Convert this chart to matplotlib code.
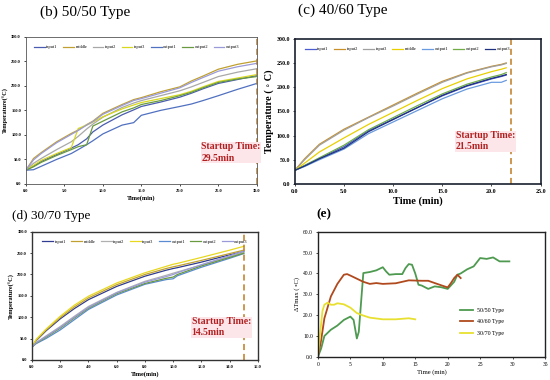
import numpy as np
import matplotlib
matplotlib.use("Agg")
import matplotlib.pyplot as plt

plt.rcParams['font.family'] = ['Liberation Serif', 'DejaVu Serif', 'DejaVu Sans']

# ---------------- (b) 50/50 type ----------------
t_b = [0, 1, 2, 4, 5.9, 6.8, 7.9, 8.7, 10, 12.5, 14, 15, 17.5, 20, 21.5, 23, 25, 27.5, 30]
b_series = {
    'input1':  [28, 36, 46, 60, 73, 80, 92, 106, 120, 141, 151, 158, 167, 177, 185, 194, 205, 213, 221],
    'middle':  [28, 52, 64, 86, 103, 110, 121, 128, 144, 162, 172, 176, 188, 198, 210, 220, 234, 244, 251],
    'input2':  [28, 42, 52, 70, 86, 97, 112, 122, 136, 156, 165, 170, 180, 190, 198, 207, 219, 228, 235],
    'input3':  [28, 38, 48, 62, 74, 113, 120, 126, 137, 153, 161, 166, 174, 182, 189, 198, 209, 216, 223],
    'output1': [28, 29, 36, 50, 62, 70, 80, 88, 102, 120, 125, 140, 150, 158, 163, 170, 180, 193, 205],
    'output2': [28, 35, 44, 58, 70, 76, 80, 118, 128, 147, 155, 162, 170, 180, 187, 196, 207, 214, 219],
    'output3': [28, 49, 62, 84, 101, 109, 120, 127, 142, 160, 170, 174, 185, 196, 207, 217, 230, 239, 246],
}
b_colors = ['#4a5cb0', '#c0a030', '#a8a8a8', '#d8d820', '#5070c0', '#6a9a40', '#9a9ad8']

# ---------------- (c) 40/60 type ----------------
t_c = [0, 1, 2.5, 5, 7.5, 10, 12.5, 15, 17.5, 20, 21, 21.5]
c_series = {
    'input1':  [28, 38, 53, 77, 110, 134, 158, 182, 202, 217, 222, 225],
    'input2':  [28, 52, 82, 113, 138, 163, 188, 212, 230, 243, 247, 250],
    'input3':  [28, 50, 80, 111, 137, 161, 186, 210, 229, 242, 246, 249],
    'middle':  [28, 43, 66, 95, 123, 148, 173, 197, 217, 232, 237, 240],
    'output1': [28, 36, 50, 72, 104, 128, 152, 176, 196, 210, 210, 214],
    'output2': [28, 38, 54, 80, 112, 137, 162, 186, 206, 221, 226, 230],
    'output3': [28, 37, 52, 74, 108, 133, 158, 183, 203, 218, 223, 226],
}
c_colors = ['#4a5cd0', '#c8902a', '#a0a0a0', '#e8d000', '#6a9be0', '#70ad47', '#203080']

# ---------------- (d) 30/70 type ----------------
t_d = [0, 0.3, 1, 2, 3, 4, 6, 8, 9.5, 10, 10.3, 12, 14, 15]
d_series = {
    'input1':  [30, 45, 68, 96, 120, 141, 172, 196, 210, 214, 216, 229, 246, 254],
    'middle':  [30, 46, 70, 99, 124, 145, 176, 200, 214, 218, 220, 233, 249, 257],
    'input2':  [30, 40, 56, 78, 102, 125, 158, 184, 198, 203, 206, 222, 242, 252],
    'input3':  [30, 48, 72, 102, 128, 149, 180, 204, 219, 224, 226, 240, 257, 266],
    'output1': [30, 38, 50, 70, 94, 118, 152, 177, 188, 190, 197, 217, 238, 249],
    'output2': [30, 39, 53, 74, 98, 121, 155, 179, 191, 194, 200, 220, 240, 250],
    'output3': [30, 40, 55, 76, 100, 123, 157, 182, 195, 200, 204, 223, 244, 255],
}
d_colors = ['#303c90', '#c0a030', '#b0b0b0', '#e8d820', '#5a8ad0', '#6a9a40', '#9a9ad8']

# ---------------- (e) delta T max ----------------
t_e50 = [0, 0.5, 1, 2, 3, 4, 5, 5.5, 6, 6.3, 7, 8, 9, 10, 10.5, 11, 12, 13, 13.5, 14, 14.5,
         15, 15.5, 16, 17, 18, 19, 20, 21, 21.5, 22, 23, 24, 25, 26, 27, 28, 29.5]
dT_50 = [0, 4, 10, 13, 15, 17.7, 19.3, 17.7, 8.8, 12, 40.2, 40.7, 41.5, 43, 41, 39.4, 39.7, 39.7,
         42.6, 44.5, 44.2, 40, 34.6, 34.2, 32.6, 33.8, 33.4, 32.6, 36, 39.4, 40, 42, 43.4, 47.4,
         47, 47.7, 45.8, 45.8]
t_e40 = [0, 0.5, 1, 2, 3, 4, 4.5, 5, 6, 7, 8, 9, 10, 12, 14, 16, 17, 18, 19.5, 20, 20.5, 21, 21.5, 22]
dT_40 = [0, 8, 18.5, 29, 35, 39.4, 39.7, 39, 37.5, 36, 35, 35.4, 35, 35.3, 36.7, 36.5, 36.5,
         35.4, 33.8, 33.3, 35.4, 37.8, 39.4, 37.8]
t_e30 = [0, 0.3, 0.7, 1, 1.5, 2, 2.5, 3, 4, 5, 6, 7, 8, 10, 12, 14, 15]
dT_30 = [0, 10, 22, 25, 26, 25, 25, 25.7, 25.2, 23.6, 21, 19.8, 18.8, 18, 18, 18.5, 18]

dash_col = '#c07a20'
note_col = '#b02020'


def temp_panel(ax, t, series, colors, xmax, xstep, start, note, note_xy, tick_fs, lab_fs, xlab, leg_x):
    for (name, vals), c in zip(series.items(), colors):
        ax.plot(t, vals, color=c, lw=0.9, label=name)
    ax.axvline(start, color=dash_col, ls=(0, (4, 2.5)), lw=1.1)
    ax.set_xlim(0, xmax)
    ax.set_ylim(0, 300)
    ax.set_yticks(np.arange(0, 301, 50))
    ax.set_xticks(np.arange(0, xmax + 0.01, xstep))
    ax.set_yticklabels([f'{v:.1f}' for v in np.arange(0, 301, 50)])
    ax.set_xticklabels([f'{v:.1f}' for v in np.arange(0, xmax + 0.01, xstep)])
    ax.tick_params(labelsize=tick_fs, length=1.5, width=0.5, pad=2)
    for lab in ax.get_xticklabels() + ax.get_yticklabels():
        lab.set_fontweight('bold')
    ax.set_ylabel(lab_fs[0], fontsize=lab_fs[1], fontweight='bold', labelpad=2)
    ax.set_xlabel(xlab, fontsize=lab_fs[2], fontweight='bold', labelpad=2)
    ax.text(note_xy[0], note_xy[1], note, color=note_col, fontsize=7, fontweight='bold',
            va='center', linespacing=1.3,
            bbox=dict(facecolor='#fde6ea', edgecolor='none', pad=0.5))
    ax.legend(loc='upper center', ncol=7, fontsize=3.2, frameon=False, handlelength=2.4,
              columnspacing=1.2, handletextpad=0.4, bbox_to_anchor=(leg_x, 0.97))


fig = plt.figure(figsize=(5.5, 3.8), dpi=100)

ax_b = fig.add_axes([0.047, 0.516, 0.42, 0.387])
temp_panel(ax_b, t_b, b_series, b_colors, 30, 5, 30, 'Startup Time:\n29.5min', (22.8, 64),
           3.2, ('Temperature(\u00b0C)', 4.5, 4.5), 'Time(min)', 0.48)
for s in ax_b.spines.values():
    s.set_linewidth(0.6)
    s.set_color('#555555')

ax_c = fig.add_axes([0.536, 0.516, 0.447, 0.382])
temp_panel(ax_c, t_c, c_series, c_colors, 25, 5, 22, 'Startup Time:\n21.5min', (16.4, 88),
           4.3, ('Temperature ( \u25e6 C)', 7.5, 7.5), 'Time (min)', 0.46)
for s in ax_c.spines.values():
    s.set_linewidth(1.2)
    s.set_color('#1a2030')

ax_d = fig.add_axes([0.058, 0.053, 0.411, 0.337])
temp_panel(ax_d, t_d, d_series, d_colors, 16, 2, 15, 'Startup Time:\n14.5min', (11.3, 76),
           3.2, ('Temperature(\u00b0C)', 4.5, 4.5), 'Time(min)', 0.5)
for s in ax_d.spines.values():
    s.set_linewidth(1.0)
    s.set_color('#333333')

ax_e = fig.add_axes([0.578, 0.061, 0.413, 0.329])
ax_e.plot(t_e50, dT_50, color='#4e9a50', lw=1.3, label='50/50 Type')
ax_e.plot(t_e40, dT_40, color='#b04a1e', lw=1.3, label='40/60 Type')
ax_e.plot(t_e30, dT_30, color='#e8e030', lw=1.3, label='30/70 Type')
ax_e.set_xlim(0, 35)
ax_e.set_ylim(0, 60)
ax_e.set_xticks(np.arange(0, 36, 5))
ax_e.set_yticks(np.arange(0, 61, 10))
ax_e.set_yticklabels([f'{v:.1f}' for v in np.arange(0, 61, 10)])
ax_e.tick_params(labelsize=4, length=1.5, width=0.5, pad=2)
ax_e.set_xlabel('Time (min)', fontsize=4.8, labelpad=2)
ax_e.set_ylabel('\u0394Tmax ( \u25e6C)', fontsize=4.8, labelpad=2)
ax_e.legend(loc='center left', bbox_to_anchor=(0.6, 0.28), fontsize=4.3, frameon=False,
            handlelength=2.2, labelspacing=1.1)
for s in ax_e.spines.values():
    s.set_linewidth(1.0)
    s.set_color('#222222')

fig.text(0.073, 0.968, '(b) 50/50 Type', fontsize=11, va='center')
fig.text(0.542, 0.972, '(c) 40/60 Type', fontsize=11, va='center')
fig.text(0.022, 0.432, '(d) 30/70 Type', fontsize=9.5, va='center')
fig.text(0.575, 0.437, '(e)', fontsize=9.5, fontweight='bold', va='center')

fig.savefig('out.png', dpi=100, facecolor='white')
